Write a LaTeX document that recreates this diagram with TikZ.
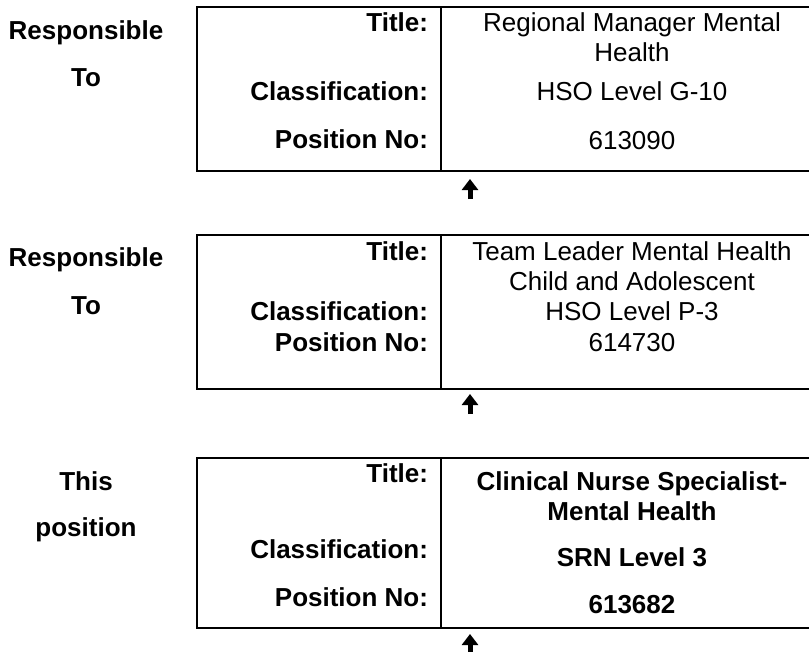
\documentclass[tikz,border=0pt]{standalone}
\usepackage{fontspec}
\setmainfont{Liberation Sans}
\usetikzlibrary{arrows.meta}
\tikzset{
  txt/.style={inner sep=0pt, outer sep=0pt, font=\fontsize{26}{30}\selectfont},
  lbl/.style={txt, font=\fontsize{26}{30}\selectfont\bfseries},
  val/.style={txt},
  bval/.style={lbl},
  posbox/.style={draw, line width=2.5pt, rectangle, inner sep=0pt, outer sep=0pt, minimum width=627pt, anchor=north west},
  divider/.style={line width=2.2pt},
  uparr/.style={line width=5pt, -{Triangle[width=16pt,length=11pt]}}
}
\begin{document}
\begin{tikzpicture}[x=1pt,y=-1pt]
\useasboundingbox (0,0) rectangle (809,651);
\clip (0,0) rectangle (809,651);
% ---- box 1
\node[posbox, minimum height=164pt] (b1) at (197,7) {};
\draw[divider] ([xshift=244pt]b1.north west) -- ([xshift=244pt]b1.south west);
\node[lbl, anchor=base] (r1a) at (86,39.5) {Responsible};
\node[lbl, anchor=base] (r1b) at (86,86) {To};
\node[lbl, anchor=base east] (t1) at (428,31.7) {Title:};
\node[lbl, anchor=base east] (c1) at (428,100) {Classification:};
\node[lbl, anchor=base east] (p1) at (428,148) {Position No:};
\node[val, anchor=base] (v1a) at (632,31.7) {Regional Manager Mental};
\node[val, anchor=base] (v1b) at (632,61) {Health};
\node[val, anchor=base] (v1c) at (632,100) {HSO Level G-10};
\node[val, anchor=base] (v1d) at (632,149) {613090};
\coordinate (a1s) at (470,199);
\coordinate (a1n) at (470,179);
\draw[uparr] (a1s) -- (a1n);
% ---- box 2
\node[posbox, minimum height=154pt] (b2) at (197,235) {};
\draw[divider] ([xshift=244pt]b2.north west) -- ([xshift=244pt]b2.south west);
\node[lbl, anchor=base] (r2a) at (86,266.7) {Responsible};
\node[lbl, anchor=base] (r2b) at (86,314) {To};
\node[lbl, anchor=base east] (t2) at (428,260) {Title:};
\node[lbl, anchor=base east] (c2) at (428,320.7) {Classification:};
\node[lbl, anchor=base east] (p2) at (428,351.7) {Position No:};
\node[val, anchor=base] (v2a) at (632,260) {Team Leader Mental Health};
\node[val, anchor=base] (v2b) at (632,290) {Child and Adolescent};
\node[val, anchor=base] (v2c) at (632,320.5) {HSO Level P-3};
\node[val, anchor=base] (v2d) at (632,351.7) {614730};
\coordinate (a2s) at (470,414);
\coordinate (a2n) at (470,394);
\draw[uparr] (a2s) -- (a2n);
% ---- box 3
\node[posbox, minimum height=170pt] (b3) at (197,458) {};
\draw[divider] ([xshift=244pt]b3.north west) -- ([xshift=244pt]b3.south west);
\node[lbl, anchor=base] (r3a) at (86,490) {This};
\node[lbl, anchor=base] (r3b) at (86,536.7) {position};
\node[lbl, anchor=base east] (t3) at (428,482.7) {Title:};
\node[lbl, anchor=base east] (c3) at (428,558) {Classification:};
\node[lbl, anchor=base east] (p3) at (428,606.7) {Position No:};
\node[bval, anchor=base] (v3a) at (632,490) {Clinical Nurse Specialist-};
\node[bval, anchor=base] (v3b) at (632,520) {Mental Health};
\node[bval, anchor=base] (v3c) at (632,566.7) {SRN Level 3};
\node[bval, anchor=base] (v3d) at (632,613) {613682};
\coordinate (a3s) at (470,655);
\coordinate (a3n) at (470,634);
\draw[uparr] (a3s) -- (a3n);
\end{tikzpicture}
\end{document}
